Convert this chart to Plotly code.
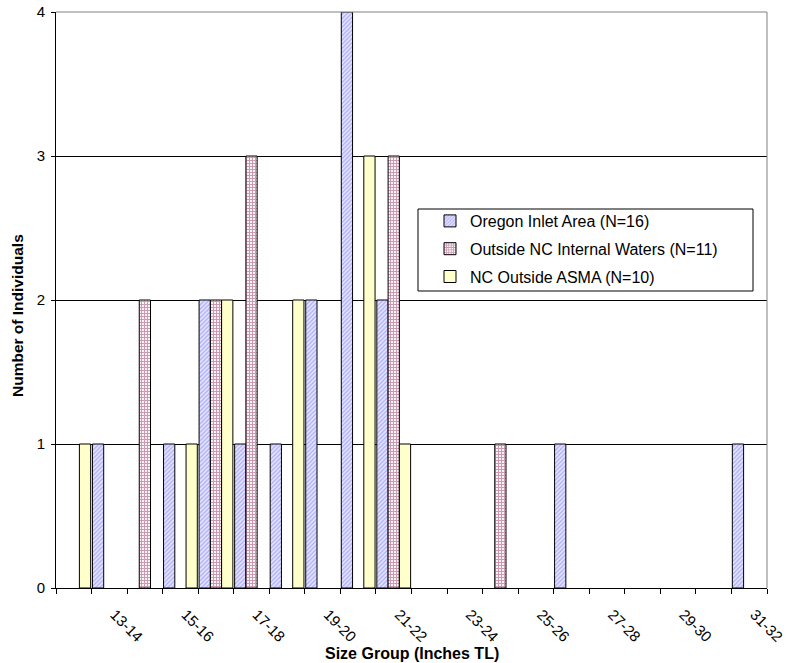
import plotly.graph_objects as go

# Size groups (inches total length)
size_groups = ["12-13", "13-14", "14-15", "15-16", "16-17", "17-18", "18-19",
               "19-20", "20-21", "21-22", "22-23", "23-24", "24-25", "25-26",
               "26-27", "27-28", "28-29", "29-30", "30-31", "31-32"]

oregon_inlet = [0, 1, 0, 1, 2, 1, 1, 2, 4, 2, 0, 0, 0, 0, 1, 0, 0, 0, 0, 1]
outside_nc_internal = [0, 0, 2, 0, 2, 3, 0, 0, 0, 3, 0, 0, 1, 0, 0, 0, 0, 0, 0, 0]
nc_outside_asma = [1, 0, 0, 1, 2, 0, 2, 0, 3, 1, 0, 0, 0, 0, 0, 0, 0, 0, 0, 0]

series_names = ["Oregon Inlet Area (N=16)",
                "Outside NC Internal Waters (N=11)",
                "NC Outside ASMA (N=10)"]

y_ticks = [0, 1, 2, 3, 4]

FONT = "Arial, Liberation Sans, sans-serif"

W, H = 788, 663
L, R, T, B = 56, 21, 12, 75
plot_w = W - L - R
plot_h = H - T - B

x_pos = list(range(len(size_groups)))
label_idx = x_pos[1::2]
boundaries = [i - 0.5 for i in range(len(size_groups) + 1)]
LABEL_NUDGE = 0.15  # rotated labels start a little right of the group centre


def px_x(p):
    return (p - L) / plot_w


def px_y(p):
    return (H - B - p) / plot_h


fig = go.Figure()

styles = [
    dict(color="#CCCCFF", pattern=dict(shape="/", fgcolor="#7070F0", bgcolor="#E4E4FF",
                                       size=3, solidity=0.4)),
    dict(color="#C06080", pattern=dict(shape="+", fgcolor="#993366", bgcolor="#FFFFFF",
                                       size=3, solidity=0.65)),
    dict(color="#FFFFCC"),
]

for name, vals, st in zip(series_names,
                          [oregon_inlet, outside_nc_internal, nc_outside_asma],
                          styles):
    # empty size groups get no bar at all
    fig.add_trace(go.Bar(
        x=x_pos, y=[v if v else None for v in vals], name=name, legendgroup=name,
        marker=dict(line=dict(color="#000000", width=1), **st),
    ))

fig.update_layout(
    width=W, height=H,
    margin=dict(l=L, r=R, t=T, b=B, autoexpand=False),
    paper_bgcolor="white", plot_bgcolor="white",
    barmode="group", bargap=0.05, bargroupgap=0,
    font=dict(family=FONT, size=15, color="black"),
    legend=dict(
        x=px_x(430), y=px_y(204), xanchor="left", yanchor="top",
        bgcolor="rgba(0,0,0,0)", borderwidth=0,
        font=dict(family=FONT, size=16, color="black"),
        traceorder="grouped", tracegroupgap=4,
    ),
    xaxis=dict(
        range=[-0.5, len(size_groups) - 0.5], automargin=False,
        tickmode="array", tickvals=[i + LABEL_NUDGE for i in label_idx],
        ticktext=[size_groups[i] for i in label_idx],
        tickangle=45, ticks="outside", ticklen=0, ticklabelstandoff=11,
        tickfont=dict(family=FONT, size=15),
        showgrid=False, zeroline=False,
        showline=True, linecolor="black", linewidth=1,
        minor=dict(tickmode="array", tickvals=boundaries, ticks="outside",
                   ticklen=5, tickcolor="black", showgrid=False),
    ),
    yaxis=dict(
        range=[0, 4], tickmode="array", tickvals=y_ticks, automargin=False,
        ticks="outside", ticklen=4, tickcolor="black", ticklabelstandoff=3,
        tickfont=dict(family=FONT, size=15),
        showgrid=True, gridcolor="black", gridwidth=1,
        zeroline=False, showline=True, linecolor="black", linewidth=1,
    ),
    annotations=[
        dict(text="<b>Number of Individuals</b>", xref="paper", yref="paper",
             x=0, y=px_y(316), xshift=17 - L, xanchor="center", yanchor="middle",
             textangle=-90, showarrow=False, font=dict(family=FONT, size=15.5)),
        dict(text="<b>Size Group (Inches TL)</b>", xref="paper", yref="paper",
             x=0.5, y=px_y(643), xanchor="center", yanchor="top",
             showarrow=False, font=dict(family=FONT, size=16)),
    ],
    shapes=[
        # plot area border (top and right)
        dict(type="line", xref="paper", yref="paper", x0=0, x1=1, y0=1, y1=1,
             line=dict(color="#808080", width=1), layer="above"),
        dict(type="line", xref="paper", yref="paper", x0=1, x1=1, y0=0, y1=1,
             line=dict(color="#808080", width=1), layer="above"),
        # legend frame
        dict(type="rect", xref="paper", yref="paper",
             x0=px_x(418), x1=px_x(753), y0=px_y(291), y1=px_y(209),
             line=dict(color="black", width=1), fillcolor="white", layer="below"),
    ],
)

fig.write_html("out.html")
